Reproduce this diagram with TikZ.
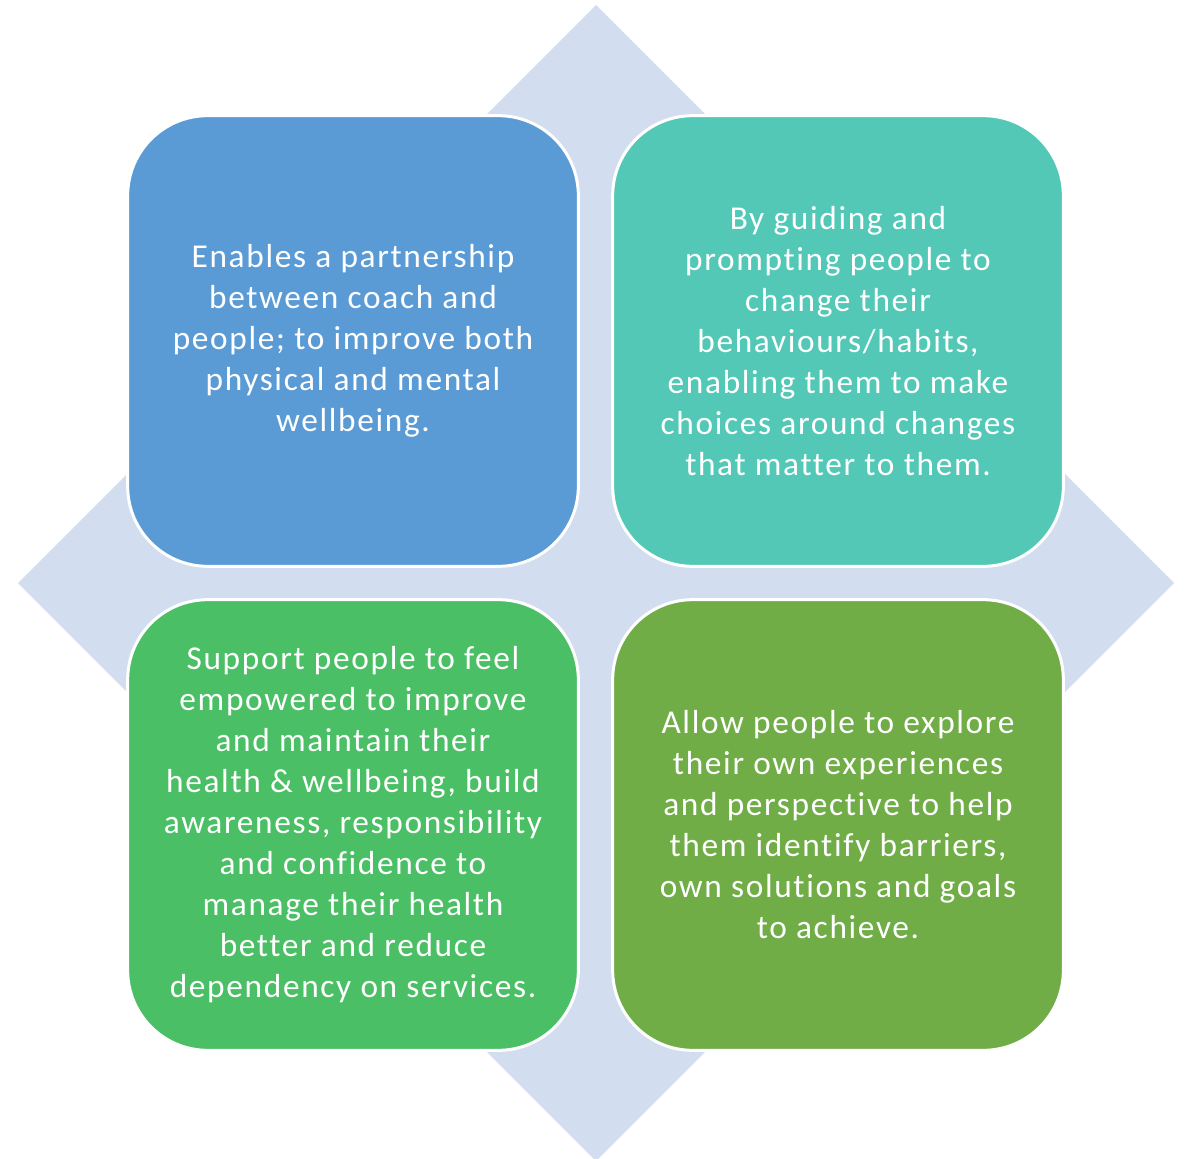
\documentclass[tikz,border=0pt]{standalone}
\usepackage{fontspec}
\setmainfont{Carlito}[Ligatures=NoCommon, LetterSpace=5]
\definecolor{backdiamond}{HTML}{D2DEEF}
\definecolor{tlblue}{HTML}{5B9BD5}
\definecolor{trteal}{HTML}{53C8B7}
\definecolor{blgreen}{HTML}{4BBF65}
\definecolor{brolive}{HTML}{70AD47}
\tikzset{
    quad/.style={rounded corners=60pt, draw=white, line width=2.25pt,
        minimum width=338pt, minimum height=338pt, inner sep=0pt,
        text=white, align=center, font=\fontsize{25}{30.75}\selectfont}
}
\begin{document}
\begin{tikzpicture}[x=0.75pt, y=-0.75pt]
    \useasboundingbox (0, 0) rectangle (1189, 1159);
    \fill[backdiamond] (596, 5) -- (1174, 583) -- (596, 1161) -- (18, 583) -- cycle;
    \node[quad, fill=tlblue] (partner) at(353, 341) {Enables a partnership\\between coach and\\people; to improve both\\physical and mental\\wellbeing.};
    \node[quad, fill=trteal] (guide) at(838, 341) {By guiding and\\prompting people to\\change their\\behaviours/habits,\\enabling them to make\\choices around changes\\that matter to them.};
    \node[quad, fill=blgreen] (empower) at(353, 825) {Support people to feel\\empowered to improve\\and maintain their\\health \& wellbeing, build\\awareness, responsibility\\and confidence to\\manage their health\\better and reduce\\dependency on services.};
    \node[quad, fill=brolive] (explore) at(838, 825) {Allow people to explore\\their own experiences\\and perspective to help\\them identify barriers,\\own solutions and goals\\to achieve.};
\end{tikzpicture}
\end{document}
